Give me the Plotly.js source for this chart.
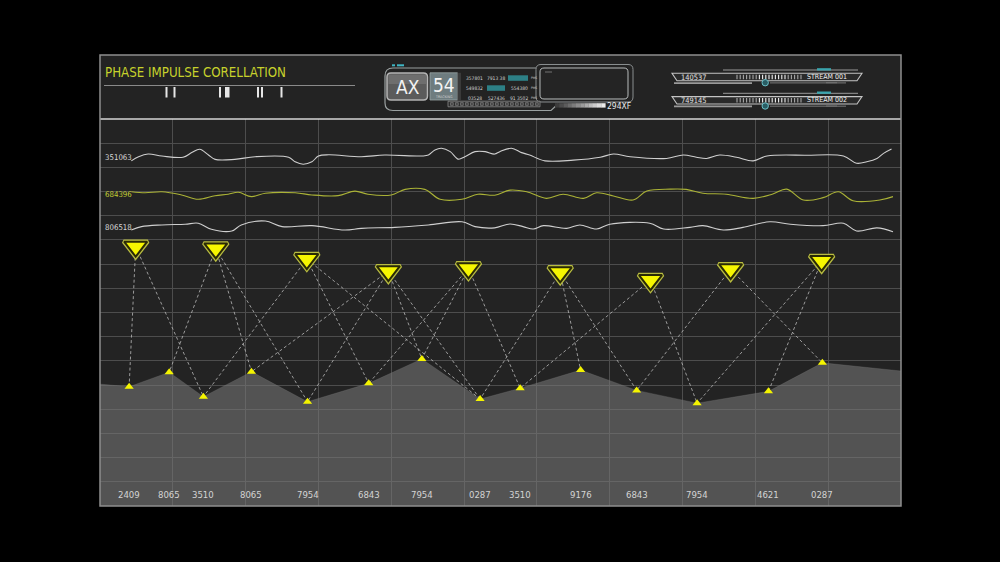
<!DOCTYPE html>
<html><head><meta charset="utf-8">
<script src="https://cdn.plot.ly/plotly-3.0.1.min.js"></script>
<style>html,body{margin:0;padding:0;background:#000;overflow:hidden}#chart{width:1000px;height:562px}</style>
</head><body><div id="chart"></div>
<script>
// ---------------- DATA ----------------
const titleText = 'PHASE IMPULSE CORELLATION';
const streamLabels = ['351063', '684396', '806518'];

const wave1X = [4.3,5.3,6.6,8.5,11.4,12.6,13.7,14.9,15.8,18.5,21.3,25.9,26.8,27.9,29.1,30.0,31.4,35.9,39.1,44.2,45.1,46.0,46.9,48.1,49.2,50.1,51.5,52.9,54.2,54.9,56.5,57.9,59.0,61.1,65.0,68.7,70.5,72.8,77.8,80.1,81.9,83.3,85.1,87.4,89.7,91.6,97.0,102.1,103.9,105.3,106.7,107.6,108.7];
const wave1Y = [142.7,144.4,145.5,144.7,144.2,146.1,147.5,145.1,143.3,143.3,144.4,144.2,142.3,141.3,142.3,144.7,145.2,144.4,145.1,144.7,145.1,147.2,147.9,146.5,143.4,144.4,146.5,146.5,145.5,146.5,147.9,146.1,145.1,142.7,143.0,144.2,145.5,144.4,143.7,145.1,144.2,143.7,145.1,144.2,142.7,144.7,145.0,144.7,141.7,142.3,143.7,145.8,147.6];

const wave2X = [4.3,6.2,8.5,11.2,13.5,15.8,17.6,19.0,20.8,22.7,26.8,29.1,32.7,35.0,36.8,40.0,41.9,44.6,46.7,49.7,51.9,54.2,56.3,58.6,61.3,63.6,66.4,68.2,70.5,73.2,75.1,78.3,80.5,82.8,86.0,89.7,92.4,94.3,96.6,99.3,101.4,103.4,107.1,108.9];
const wave2Y = [129.9,129.5,129.9,128.6,126.8,128.3,128.9,129.7,127.9,129.3,129.5,128.6,128.3,130.2,128.9,128.6,130.9,130.9,126.8,126.8,128.9,128.5,130.6,129.9,127.2,128.9,127.2,129.5,128.2,126.5,130.2,131.0,130.9,129.3,128.9,127.2,129.0,131.0,126.5,127.5,129.9,126.2,126.5,127.9];

const wave3X = [4.3,5.7,8.5,11.7,13.5,15.3,18.1,19.4,22.7,25.0,29.1,33.6,35.9,40.5,45.1,49.7,51.5,54.2,56.3,58.1,59.5,60.9,64.1,65.9,68.2,70.0,75.5,77.4,81.0,82.8,85.6,88.3,92.0,94.8,99.3,102.1,103.9,106.7,108.9];
const wave3Y = [114.1,115.5,116.2,116.5,116.9,114.4,113.7,116.2,117.8,115.5,115.9,114.1,114.8,115.2,116.2,117.5,115.5,115.0,116.6,115.5,114.5,115.9,114.8,116.2,114.5,116.5,116.9,114.5,115.2,115.9,114.1,115.2,117.5,116.5,115.9,116.9,113.7,115.0,113.4];

const peakX = [4.9,15.9,28.4,39.6,50.6,63.2,75.6,86.6,99.1];
const peakY = [107.2,106.5,102.1,97.1,98.3,96.6,93.4,97.9,101.3];

const baseX = [4.0,9.5,14.2,20.8,28.5,36.9,44.2,52.2,57.7,66.0,73.7,82.0,91.8,99.2];
const baseY = [49.3,55.3,45.2,55.5,43.1,50.7,60.8,44.2,48.7,56.2,47.8,42.5,47.4,59.2];
const baseLabels = ['2409','8065','3510','8065','7954','6843','7954','0287','3510','9176','6843','7954','4621','0287'];

const ridgeStartY = 50.4;
const ridgeEndY = 55.8;

// links: [peak index, base index]
const links = [[0,0],[0,2],[1,1],[1,3],[1,4],[2,2],[2,5],[2,7],[3,3],[3,4],[3,6],[3,7],[4,5],[4,6],[4,8],[5,7],[5,9],[5,10],[6,8],[6,11],[7,10],[7,13],[8,11],[8,12]];

const headerRows = [['357801','7913 38','','PMS'],['549832','','554380','PMS'],['03528','527436','91 3502','PMS']];
const streams = [{value:'140537', name:'STREAM 001'},{value:'749145', name:'STREAM 002'}];
const axLabel = 'AX', axNumber = '54', axSub = 'TRACKING', barLabel = '294XF';

// ---------------- LAYOUT HELPERS ----------------
const L = 100, R = 901, T = 119, B = 506;
const px = x => (x - L) / (R - L);
const py = y => (B - y) / (B - T);
const P = (x, y) => px(x).toFixed(5) + ',' + py(y).toFixed(5);
const FONT = 'Liberation Sans Narrow, DejaVu Sans Condensed, Roboto Condensed, Roboto, sans-serif';

const shapes = [];
const ann = [];
function rect(x0, y0, x1, y1, fill, line, lw, layer) {
  shapes.push({type:'rect', xref:'paper', yref:'paper', x0:px(x0), x1:px(x1), y0:py(y1), y1:py(y0),
    fillcolor: fill || 'rgba(0,0,0,0)', line:{color: line || 'rgba(0,0,0,0)', width: lw || 0}, layer: layer || 'above'});
}
function seg(x0, y0, x1, y1, color, w, dash) {
  shapes.push({type:'line', xref:'paper', yref:'paper', x0:px(x0), x1:px(x1), y0:py(y0), y1:py(y1),
    line:{color:color, width:w, dash: dash || 'solid'}, layer:'above'});
}
function path(d, fill, line, lw) {
  shapes.push({type:'path', xref:'paper', yref:'paper', path:d, fillcolor: fill || 'rgba(0,0,0,0)',
    line:{color: line || 'rgba(0,0,0,0)', width: lw || 0}, layer:'above'});
}
function rrect(x0, y0, x1, y1, r, fill, line, lw) {
  const d = 'M ' + P(x0 + r, y0) + ' L ' + P(x1 - r, y0) + ' Q ' + P(x1, y0) + ' ' + P(x1, y0 + r) +
    ' L ' + P(x1, y1 - r) + ' Q ' + P(x1, y1) + ' ' + P(x1 - r, y1) + ' L ' + P(x0 + r, y1) +
    ' Q ' + P(x0, y1) + ' ' + P(x0, y1 - r) + ' L ' + P(x0, y0 + r) + ' Q ' + P(x0, y0) + ' ' + P(x0 + r, y0) + ' Z';
  path(d, fill, line, lw);
}
function text(x, y, t, size, color, xanchor, extra) {
  ann.push(Object.assign({xref:'paper', yref:'paper', x:px(x), y:py(y), text:t, showarrow:false,
    xanchor: xanchor || 'center', yanchor:'middle', font:{family:FONT, size:size, color:color}}, extra || {}));
}

// outer panel
rect(100, 55, 901, 506, '#232323', null, 0, 'below');
// header separator
seg(100, 119, 901, 119, '#d6d6d6', 1.6);
// title
text(103, 72, titleText, 13.2, '#c7d22c', 'left');
seg(104, 85.5, 355, 85.5, '#8a8a8a', 1);
[[165.5,167.5],[173.5,175.5],[219,221],[225,229.5],[257,259],[261,263],[280.5,282.5]].forEach(b => rect(b[0], 87, b[1], 97.5, '#e6e6e6'));

// center panel
rect(392, 64.3, 395, 66.3, '#3fb6c4');
rect(397, 64.3, 404, 66.3, '#3fb6c4');
path('M ' + P(385, 103) + ' L ' + P(385, 76) + ' Q ' + P(385, 68) + ' ' + P(393, 68) + ' L ' + P(536, 68), null, '#9aa0a0', 1.2);
path('M ' + P(385, 103) + ' Q ' + P(385, 110.5) + ' ' + P(393, 110.5) + ' L ' + P(551, 110.5) + ' L ' + P(558, 104), null, '#9aa0a0', 1.2);
rrect(536, 64.5, 633, 102, 5, null, '#8a8f90', 1);
rrect(540, 68, 628, 99, 4, '#242424', '#b8bcbc', 1);
seg(545, 72, 552, 72, '#888', 0.8);
rrect(387, 73, 427.5, 100, 4, '#5b5b5b', '#b4b4b4', 1.5);
rect(388.5, 74.5, 426, 84, 'rgba(255,255,255,0.12)');
text(407.5, 86.5, axLabel, 19, '#f2f2f2');
rect(430, 72.8, 457.5, 100, '#6e7c7f', '#9aa4a6', 0.8);
text(443.8, 84.5, axNumber, 19, '#f4f4f4');
text(443.8, 96.6, axSub, 3.6, '#d0d0d0');
rect(457.5, 72.8, 461, 100, '#3a3a3a');
rect(508, 75.3, 528, 80.8, '#2d8086');
rect(487, 85.3, 505, 90.8, '#2d8086');
const colX = [474.5, 496, 519, 533.5];
const rowY = [78, 88, 98];
headerRows.forEach((row, i) => row.forEach((t, j) => {
  if (t) text(colX[j], rowY[i], t, j === 3 ? 3.2 : 4.9, '#d6d6d6');
}));
rect(448, 101.2, 540, 106.8, '#2e2e2e', '#8a8a8a', 0.8);
for (let k = 0; k < 18; k++) rect(450.5 + k * 5, 102.6, 453.3 + k * 5, 105.4, '#454545', '#9a9a9a', 0.5);
for (let k = 0; k < 12; k++) {
  const g = Math.round(60 + k * 16);
  rect(555 + k * 4.2, 103.2, 559.4 + k * 4.2, 107.6, 'rgb(' + g + ',' + g + ',' + g + ')');
}
text(619, 105.7, barLabel, 8.5, '#eaeaea');

// stream panels
streams.forEach((s, i) => {
  const y0 = 70.5 + i * 23.3;
  seg(723, y0 - 0.5, 858, y0 - 0.5, '#9a9a9a', 1);
  rect(817, y0 - 2.3, 831, y0, '#3aa5ae');
  path('M ' + P(672, y0 + 2.8) + ' L ' + P(862, y0 + 2.8) + ' L ' + P(857, y0 + 10.2) + ' L ' + P(677, y0 + 10.2) + ' Z', '#2a2a2a', '#c4c4c4', 1.1);
  for (let k = 0; k < 21; k++) {
    const xx = 737 + k * 3.2;
    const c = (k > 6 && k < 16) ? '#f0f0f0' : '#a8a8a8';
    seg(xx, y0 + 4.2, xx, y0 + 8.8, c, 1.1);
  }
  text(679, y0 + 6.5, s.value, 7.4, '#e0e0e0', 'left');
  text(849, y0 + 6.5, s.name, 7, '#f0f0f0', 'right');
  rect(826, y0 + 11.5, 837, y0 + 12.8, '#5a5a5a');
  seg(674, y0 + 12.6, 752, y0 + 12.6, '#9a9a9a', 1.6);
  seg(770, y0 + 12.4, 846, y0 + 12.4, '#7a7a7a', 1);
  shapes.push({type:'circle', xref:'paper', yref:'paper', x0:px(762), x1:px(768.4), y0:py(y0 + 15.4), y1:py(y0 + 9.0),
    fillcolor:'#2a5d64', line:{color:'#6cc0c8', width:1}, layer:'above'});
});

// stream line labels
const labelY = [157, 194, 227];
const labelC = ['#d8d8d8', '#c2cc34', '#d8d8d8'];
streamLabels.forEach((t, i) => text(103, labelY[i], t, 7.8, labelC[i], 'left'));

// bottom value labels (positioned at base points)
baseLabels.forEach((t, i) => ann.push({xref:'x', yref:'paper', x:baseX[i], y:py(494), text:t, showarrow:false,
  xanchor:'center', yanchor:'middle', font:{family:FONT, size:9.5, color:'#d4d4d4'}}));

// outer border on top
rect(100, 55, 901, 506, null, '#8e8e8e', 1.5);

// ---------------- TRACES ----------------
const ridgeX = [0].concat(baseX, [110]);
const ridgeY = [ridgeStartY].concat(baseY, [ridgeEndY]);
const lx = [], ly = [];
links.forEach(([p, b]) => { lx.push(peakX[p], baseX[b], null); ly.push(peakY[p], baseY[b], null); });

const traces = [
  {x:ridgeX, y:ridgeY, mode:'lines', fill:'tozeroy', fillcolor:'rgba(122,122,122,0.56)',
   line:{color:'rgba(122,122,122,0.56)', width:0.5}, hoverinfo:'skip'},
  {x:wave1X, y:wave1Y, mode:'lines', line:{color:'#cfcfcf', width:1.1, shape:'spline', smoothing:1}},
  {x:wave2X, y:wave2Y, mode:'lines', line:{color:'#aab236', width:1.1, shape:'spline', smoothing:1}},
  {x:wave3X, y:wave3Y, mode:'lines', line:{color:'#cfcfcf', width:1.1, shape:'spline', smoothing:1}},
  {x:lx, y:ly, mode:'lines', connectgaps:false, line:{color:'rgba(185,185,185,0.8)', width:1, dash:'3px,2.5px'}},
  {x:baseX, y:baseY, mode:'markers', marker:{symbol:'triangle-up', size:8, color:'#f4f400'}},
  {x:peakX, y:peakY, mode:'markers', marker:{symbol:'triangle-down', size:21, color:'#f6f600', line:{color:'#b8bc40', width:4}}},
  {x:peakX, y:peakY, mode:'markers', marker:{symbol:'triangle-down', size:20, color:'#f6f600', line:{color:'#2a2a06', width:2}}}
];

const layout = {
  width:1000, height:562, autosize:false, showlegend:false,
  paper_bgcolor:'#000000', plot_bgcolor:'#232323',
  margin:{l:L, r:1000 - R, t:T, b:562 - B, pad:0},
  xaxis:{range:[0,110], tick0:0, dtick:10, showgrid:true, gridcolor:'#4d4d4d', gridwidth:1, zeroline:false,
         showticklabels:false, ticks:'', showline:false, fixedrange:true},
  yaxis:{range:[0,160], tick0:0, dtick:10, showgrid:true, gridcolor:'#4d4d4d', gridwidth:1, zeroline:false,
         showticklabels:false, ticks:'', showline:false, fixedrange:true},
  shapes:shapes, annotations:ann
};
Plotly.newPlot('chart', traces, layout, {displayModeBar:false, staticPlot:true});
</script></body></html>
